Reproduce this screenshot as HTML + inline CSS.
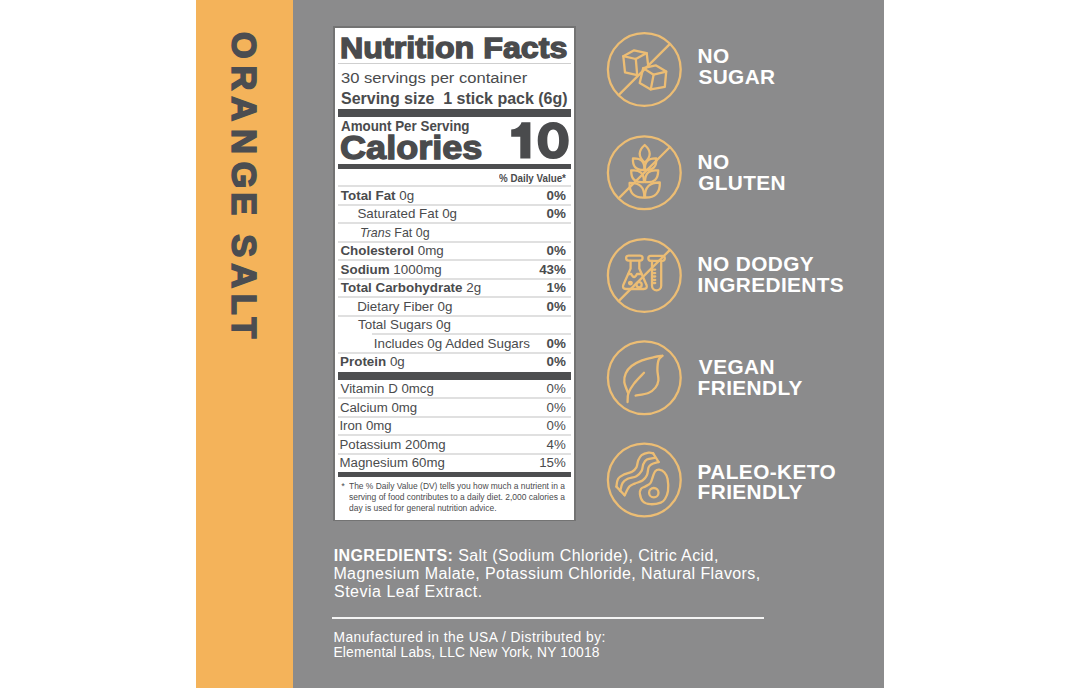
<!DOCTYPE html>
<html><head><meta charset="utf-8"><style>
html,body{margin:0;padding:0;}
body{width:1080px;height:688px;position:relative;overflow:hidden;background:#fff;font-family:"Liberation Sans", sans-serif;}
.t{position:absolute;white-space:nowrap;line-height:1;}
.r{position:absolute;}
.ic{position:absolute;left:0;top:0;}
b{font-weight:bold;}
</style></head><body>
<div class="r" style="left:196px;top:0px;width:97px;height:688px;background:#f4b35a;"></div>
<div class="r" style="left:293px;top:0px;width:591px;height:688px;background:#8b8b8c;"></div>
<div class="r" style="left:333px;top:26px;width:243px;height:495px;background:#737373;"></div>
<div class="r" style="left:335px;top:27.5px;width:239px;height:492px;background:#ffffff;"></div>
<div class="t" style="left:340.44px;top:34.19px;font-size:28.6px;font-weight:bold;font-style:normal;color:#4a4b4d;letter-spacing:0.0px;transform:scaleX(1.1273);transform-origin:0 0;-webkit-text-stroke:1.3px #4a4b4d;">Nutrition Facts</div>
<div class="r" style="left:338px;top:63px;width:233px;height:1px;background:#cfcfcf;"></div>
<div class="t" style="left:340.57px;top:69.68px;font-size:15.5px;font-weight:normal;font-style:normal;color:#4a4b4d;letter-spacing:0.0px;transform:scaleX(1.0699);transform-origin:0 0;">30 servings per container</div>
<div class="t" style="left:340.54px;top:90.00px;font-size:16.3px;font-weight:bold;font-style:normal;color:#4a4b4d;letter-spacing:0.0px;transform:scaleX(0.9820);transform-origin:0 0;">Serving size  1 stick pack (6g)</div>
<div class="r" style="left:338px;top:109px;width:233px;height:8px;background:#4d4e50;"></div>
<div class="t" style="left:340.67px;top:120.12px;font-size:13.8px;font-weight:bold;font-style:normal;color:#4a4b4d;letter-spacing:0.0px;transform:scaleX(0.9689);transform-origin:0 0;">Amount Per Serving</div>
<div class="t" style="left:339.52px;top:131.97px;font-size:32.4px;font-weight:bold;font-style:normal;color:#4a4b4d;letter-spacing:0.0px;transform:scaleX(1.1142);transform-origin:0 0;-webkit-text-stroke:1.3px #4a4b4d;">Calories</div>
<svg class="ic" width="1080" height="688" viewBox="0 0 1080 688"><path fill="#4a4b4d" fill-rule="evenodd" d="M530.4,122.3 H521.5 C520,127 516,129.3 511.2,129.6 V136.8 H520.3 V158.6 H530.4 Z M553.2,121.9 C543.2,121.9 537.7,129.8 537.7,140.4 C537.7,151 543.2,159 553.2,159 C563.2,159 568.7,151 568.7,140.4 C568.7,129.8 563.2,121.9 553.2,121.9 Z M553.2,129.5 C549.5,129.5 547.3,133 547.3,140.4 C547.3,147.8 549.5,151.3 553.2,151.3 C556.9,151.3 559.1,147.8 559.1,140.4 C559.1,133 556.9,129.5 553.2,129.5 Z"/></svg>
<div class="r" style="left:338px;top:164px;width:233px;height:5px;background:#4d4e50;"></div>
<div class="t" style="left:499.26px;top:173.13px;font-size:10.6px;font-weight:bold;font-style:normal;color:#4a4b4d;letter-spacing:0.0px;transform:scaleX(0.9233);transform-origin:0 0;">% Daily Value*</div>
<div class="t" style="left:340.85px;top:188.67px;font-size:13.38px;color:#4a4b4d;"><b>Total Fat</b> 0g</div>
<div class="t" style="left:546.61px;top:188.67px;font-size:13.38px;font-weight:bold;color:#4a4b4d">0%</div>
<div class="t" style="left:357.39px;top:207.17px;font-size:13.38px;color:#4a4b4d;">Saturated Fat 0g</div>
<div class="t" style="left:546.61px;top:207.17px;font-size:13.38px;font-weight:bold;color:#4a4b4d">0%</div>
<div class="t" style="left:360.20px;top:225.67px;font-size:13.38px;color:#4a4b4d;transform:scaleX(0.93);transform-origin:0 0;"><i>Trans</i> Fat 0g</div>
<div class="t" style="left:340.45px;top:244.17px;font-size:13.38px;color:#4a4b4d;"><b>Cholesterol</b> 0mg</div>
<div class="t" style="left:546.61px;top:244.17px;font-size:13.38px;font-weight:bold;color:#4a4b4d">0%</div>
<div class="t" style="left:340.61px;top:262.67px;font-size:13.38px;color:#4a4b4d;"><b>Sodium</b> 1000mg</div>
<div class="t" style="left:539.17px;top:262.67px;font-size:13.38px;font-weight:bold;color:#4a4b4d">43%</div>
<div class="t" style="left:340.85px;top:281.17px;font-size:13.38px;color:#4a4b4d;"><b>Total Carbohydrate</b> 2g</div>
<div class="t" style="left:546.61px;top:281.17px;font-size:13.38px;font-weight:bold;color:#4a4b4d">1%</div>
<div class="t" style="left:357.20px;top:299.67px;font-size:13.38px;color:#4a4b4d;">Dietary Fiber 0g</div>
<div class="t" style="left:546.61px;top:299.67px;font-size:13.38px;font-weight:bold;color:#4a4b4d">0%</div>
<div class="t" style="left:358.00px;top:318.17px;font-size:13.38px;color:#4a4b4d;">Total Sugars 0g</div>
<div class="t" style="left:373.77px;top:336.67px;font-size:13.38px;color:#4a4b4d;">Includes 0g Added Sugars</div>
<div class="t" style="left:546.61px;top:336.67px;font-size:13.38px;font-weight:bold;color:#4a4b4d">0%</div>
<div class="t" style="left:340.10px;top:355.17px;font-size:13.38px;color:#4a4b4d;"><b>Protein</b> 0g</div>
<div class="t" style="left:546.61px;top:355.17px;font-size:13.38px;font-weight:bold;color:#4a4b4d">0%</div>
<div class="r" style="left:338px;top:185px;width:233px;height:2px;background:#e0e0e0;"></div>
<div class="r" style="left:338px;top:204px;width:233px;height:2px;background:#e0e0e0;"></div>
<div class="r" style="left:338px;top:222px;width:233px;height:2px;background:#e0e0e0;"></div>
<div class="r" style="left:338px;top:241px;width:233px;height:2px;background:#e0e0e0;"></div>
<div class="r" style="left:338px;top:259px;width:233px;height:2px;background:#e0e0e0;"></div>
<div class="r" style="left:338px;top:278px;width:233px;height:2px;background:#e0e0e0;"></div>
<div class="r" style="left:338px;top:296px;width:233px;height:2px;background:#e0e0e0;"></div>
<div class="r" style="left:338px;top:315px;width:233px;height:2px;background:#e0e0e0;"></div>
<div class="r" style="left:372px;top:333px;width:199px;height:2px;background:#e0e0e0;"></div>
<div class="r" style="left:338px;top:352px;width:233px;height:2px;background:#e0e0e0;"></div>
<div class="r" style="left:338px;top:372px;width:233px;height:7.5px;background:#4d4e50;"></div>
<div class="t" style="left:340.54px;top:382.08px;font-size:13.25px;font-weight:normal;font-style:normal;color:#4a4b4d;letter-spacing:0.0px;">Vitamin D 0mcg</div>
<div class="t" style="left:546.52px;top:382.08px;font-size:13.25px;font-weight:normal;font-style:normal;color:#4a4b4d;letter-spacing:0.0px;">0%</div>
<div class="r" style="left:338px;top:397px;width:233px;height:2px;background:#e0e0e0;"></div>
<div class="t" style="left:339.93px;top:400.63px;font-size:13.25px;font-weight:normal;font-style:normal;color:#4a4b4d;letter-spacing:0.0px;">Calcium 0mg</div>
<div class="t" style="left:546.52px;top:400.63px;font-size:13.25px;font-weight:normal;font-style:normal;color:#4a4b4d;letter-spacing:0.0px;">0%</div>
<div class="r" style="left:338px;top:416px;width:233px;height:2px;background:#e0e0e0;"></div>
<div class="t" style="left:339.38px;top:419.18px;font-size:13.25px;font-weight:normal;font-style:normal;color:#4a4b4d;letter-spacing:0.0px;">Iron 0mg</div>
<div class="t" style="left:546.52px;top:419.18px;font-size:13.25px;font-weight:normal;font-style:normal;color:#4a4b4d;letter-spacing:0.0px;">0%</div>
<div class="r" style="left:338px;top:434px;width:233px;height:2px;background:#e0e0e0;"></div>
<div class="t" style="left:339.51px;top:437.73px;font-size:13.25px;font-weight:normal;font-style:normal;color:#4a4b4d;letter-spacing:0.0px;">Potassium 200mg</div>
<div class="t" style="left:546.52px;top:437.73px;font-size:13.25px;font-weight:normal;font-style:normal;color:#4a4b4d;letter-spacing:0.0px;">4%</div>
<div class="r" style="left:338px;top:453px;width:233px;height:2px;background:#e0e0e0;"></div>
<div class="t" style="left:339.51px;top:456.28px;font-size:13.25px;font-weight:normal;font-style:normal;color:#4a4b4d;letter-spacing:0.0px;">Magnesium 60mg</div>
<div class="t" style="left:539.15px;top:456.28px;font-size:13.25px;font-weight:normal;font-style:normal;color:#4a4b4d;letter-spacing:0.0px;">15%</div>
<div class="r" style="left:338px;top:472px;width:233px;height:5.4px;background:#4d4e50;"></div>
<div class="t" style="left:341.15px;top:482.01px;font-size:9.2px;font-weight:normal;font-style:normal;color:#4a4b4d;letter-spacing:0.0px;">*</div>
<div class="t" style="left:348.81px;top:482.01px;font-size:9.2px;font-weight:normal;font-style:normal;color:#4a4b4d;letter-spacing:0.0px;transform:scaleX(0.9177);transform-origin:0 0;">The % Daily Value (DV) tells you how much a nutrient in a</div>
<div class="t" style="left:348.76px;top:492.81px;font-size:9.2px;font-weight:normal;font-style:normal;color:#4a4b4d;letter-spacing:0.0px;transform:scaleX(0.9212);transform-origin:0 0;">serving of food contributes to a daily diet. 2,000 calories a</div>
<div class="t" style="left:348.64px;top:503.61px;font-size:9.2px;font-weight:normal;font-style:normal;color:#4a4b4d;letter-spacing:0.0px;transform:scaleX(0.9229);transform-origin:0 0;">day is used for general nutrition advice.</div>
<div class="t" style="left:697.61px;top:46.49px;font-size:20.8px;font-weight:bold;font-style:normal;color:#ffffff;letter-spacing:0.4px;">NO</div>
<div class="t" style="left:698.40px;top:67.09px;font-size:20.8px;font-weight:bold;font-style:normal;color:#ffffff;letter-spacing:0.4px;">SUGAR</div>
<div class="t" style="left:697.61px;top:152.29px;font-size:20.8px;font-weight:bold;font-style:normal;color:#ffffff;letter-spacing:0.4px;">NO</div>
<div class="t" style="left:698.15px;top:172.89px;font-size:20.8px;font-weight:bold;font-style:normal;color:#ffffff;letter-spacing:0.4px;">GLUTEN</div>
<div class="t" style="left:697.61px;top:254.09px;font-size:20.8px;font-weight:bold;font-style:normal;color:#ffffff;letter-spacing:0.4px;">NO DODGY</div>
<div class="t" style="left:697.61px;top:274.69px;font-size:20.8px;font-weight:bold;font-style:normal;color:#ffffff;letter-spacing:0.4px;">INGREDIENTS</div>
<div class="t" style="left:698.86px;top:357.29px;font-size:20.8px;font-weight:bold;font-style:normal;color:#ffffff;letter-spacing:0.4px;">VEGAN</div>
<div class="t" style="left:697.61px;top:377.89px;font-size:20.8px;font-weight:bold;font-style:normal;color:#ffffff;letter-spacing:0.4px;">FRIENDLY</div>
<div class="t" style="left:697.61px;top:461.59px;font-size:20.8px;font-weight:bold;font-style:normal;color:#ffffff;letter-spacing:0.4px;">PALEO-KETO</div>
<div class="t" style="left:697.61px;top:482.19px;font-size:20.8px;font-weight:bold;font-style:normal;color:#ffffff;letter-spacing:0.4px;">FRIENDLY</div>
<div class="t" style="left:333.63px;top:548.16px;font-size:16px;color:#ffffff;letter-spacing:0.42px"><b>INGREDIENTS:</b> Salt (Sodium Chloride), Citric Acid,</div>
<div class="t" style="left:333.39px;top:566.06px;font-size:16px;font-weight:normal;font-style:normal;color:#ffffff;letter-spacing:0.42px;">Magnesium Malate, Potassium Chloride, Natural Flavors,</div>
<div class="t" style="left:333.97px;top:584.06px;font-size:16px;font-weight:normal;font-style:normal;color:#ffffff;letter-spacing:0.5px;">Stevia Leaf Extract.</div>
<div class="r" style="left:332px;top:617px;width:432px;height:1.5px;background:#f4f4f4;"></div>
<div class="t" style="left:333.47px;top:631.22px;font-size:13.8px;font-weight:normal;font-style:normal;color:#ffffff;letter-spacing:0.47px;">Manufactured in the USA / Distributed by:</div>
<div class="t" style="left:333.47px;top:645.82px;font-size:13.8px;font-weight:normal;font-style:normal;color:#ffffff;letter-spacing:0.19px;">Elemental Labs, LLC New York, NY 10018</div>
<div class="t" style="left:260.59px;top:0px;font-size:34.6px;font-weight:bold;color:#4b4d51;transform:rotate(90deg);transform-origin:0 0;-webkit-text-stroke:1.5px #4b4d51"><span style="position:absolute;left:31.76px;top:0">O</span><span style="position:absolute;left:65.50px;top:0">R</span><span style="position:absolute;left:96.33px;top:0">A</span><span style="position:absolute;left:128.91px;top:0">N</span><span style="position:absolute;left:161.46px;top:0">G</span><span style="position:absolute;left:192.18px;top:0">E</span><span style="position:absolute;left:234.14px;top:0">S</span><span style="position:absolute;left:263.13px;top:0">A</span><span style="position:absolute;left:293.66px;top:0">L</span><span style="position:absolute;left:317.37px;top:0">T</span></div>
<svg class="ic" width="1080" height="688" viewBox="0 0 1080 688" fill="none" stroke="#ecbd74" stroke-width="2.3" stroke-linejoin="round" stroke-linecap="round"><circle cx="644.3" cy="69.5" r="36.4"/><circle cx="644.3" cy="172.7" r="36.4"/><circle cx="644.3" cy="275.5" r="36.4"/><circle cx="644.3" cy="377.8" r="36.4"/><circle cx="644.3" cy="480.0" r="36.4"/><line x1="619.37" y1="94.43" x2="669.23" y2="44.57"/><line x1="619.37" y1="197.63" x2="669.23" y2="147.77"/><line x1="619.37" y1="300.43" x2="669.23" y2="250.57"/><path d="M623.30,56.20 L634.10,50.30 L646.70,53.10 L635.80,59.00Z"/><path d="M623.30,56.20 L625.00,72.30 L637.20,75.10 L635.80,59.00"/><path d="M646.70,53.10 L648.00,64.20"/><path d="M643.20,68.10 L655.70,65.30 L666.20,71.60 L653.60,74.70Z"/><path d="M643.20,68.10 L639.70,83.10 L650.80,89.40 L664.80,86.90 L666.20,71.60"/><path d="M653.60,74.70 L650.80,89.40"/><path d="M644.70,145.00 Q634.70,153.75 644.70,162.50 Q654.70,153.75 644.70,145.00Z"/><path d="M633.00,158.30 Q632.03,170.54 644.30,170.00 Q645.27,157.76 633.00,158.30Z"/><path d="M656.30,158.30 Q644.03,157.76 645.00,170.00 Q657.27,170.54 656.30,158.30Z"/><path d="M631.20,170.50 Q630.92,183.69 644.00,182.00 Q644.28,168.81 631.20,170.50Z"/><path d="M658.20,170.50 Q645.03,168.71 645.00,182.00 Q658.17,183.79 658.20,170.50Z"/><path d="M629.60,183.00 Q629.08,198.22 644.30,197.50 Q644.82,182.28 629.60,183.00Z"/><path d="M659.80,182.50 Q644.43,182.13 645.00,197.50 Q660.37,197.87 659.80,182.50Z"/><path d="M628.6,255.6 H640.1 A2.5,2.5 0 0 1 640.1,260.6 H628.6 A2.5,2.5 0 0 1 628.6,255.6Z"/><path d="M630.6,260.8 V268.5 L623.2,285.2 Q622.2,289 626,289 H643.8 Q647.6,289 646.6,285.2 L639.3,268.5 V260.8"/><path d="M628.5,274 H631.2 Q634,280 637,274 H641.4"/><path d="M630.4,283.1 m-1.3,0 a1.3,1.3 0 1 0 2.6,0 a1.3,1.3 0 1 0 -2.6,0"/><path d="M639.1,284.8 m-2.6,0 a2.6,2.6 0 1 0 5.2,0 a2.6,2.6 0 1 0 -5.2,0"/><path d="M650.8,255.8 H662.3 A2.5,2.5 0 0 1 662.3,260.8 H650.8 A2.5,2.5 0 0 1 650.8,255.8Z"/><path d="M652,261 V285.8 A4.6,4.6 0 0 0 661.2,285.8 V261"/><path d="M653.6,269.6 H655.2"/><path d="M653.6,273.1 H655.2"/><path d="M653.6,276.5 H655.2"/><path d="M653.6,279.9 H655.2"/><path d="M653.6,283.0 H655.2"/><path d="M628.20,393.20 C627.55,391.33 624.70,385.33 624.30,382.00 C623.90,378.67 624.58,375.87 625.80,373.20 C627.02,370.53 628.90,368.13 631.60,366.00 C634.30,363.87 638.27,361.87 642.00,360.40 C645.73,358.93 650.60,357.97 654.00,357.20 C657.40,356.43 661.00,356.03 662.40,355.80"/><path d="M662.40,355.80 C661.77,356.50 659.43,357.63 658.60,360.00 C657.77,362.37 657.43,366.60 657.40,370.00 C657.37,373.40 658.73,377.47 658.40,380.40 C658.07,383.33 657.07,385.50 655.40,387.60 C653.73,389.70 651.70,391.67 648.40,393.00 C645.10,394.33 637.73,395.17 635.60,395.60"/><path d="M627.60,402.00 C627.73,400.53 627.33,396.27 628.40,393.20 C629.47,390.13 631.40,387.00 634.00,383.60 C636.60,380.20 642.33,374.60 644.00,372.80"/><path d="M616.40,486.60 C616.68,485.30 616.80,480.83 618.10,478.80 C619.40,476.77 621.88,475.57 624.20,474.40 C626.52,473.23 629.97,472.97 632.00,471.80 C634.03,470.63 635.37,469.28 636.40,467.40 C637.43,465.52 637.33,462.53 638.20,460.50 C639.07,458.47 639.87,456.52 641.60,455.20 C643.33,453.88 646.67,452.92 648.60,452.60 C650.53,452.28 652.43,453.18 653.20,453.30"/><path d="M620.30,491.00 C620.67,489.68 621.27,485.13 622.50,483.10 C623.73,481.07 625.38,479.95 627.70,478.80 C630.02,477.65 634.08,477.52 636.40,476.20 C638.72,474.88 640.43,472.93 641.60,470.90 C642.77,468.87 642.52,465.88 643.40,464.00 C644.28,462.12 645.02,460.63 646.90,459.60 C648.78,458.57 653.40,458.10 654.70,457.80"/><path d="M624.60,495.30 C625.40,493.85 627.72,488.55 629.40,486.60 C631.08,484.65 632.52,484.62 634.70,483.60 C636.88,482.58 640.47,481.88 642.50,480.50 C644.53,479.12 645.88,477.48 646.90,475.30 C647.92,473.12 647.88,469.22 648.60,467.40 C649.32,465.58 649.53,465.30 651.20,464.40 C652.87,463.50 657.37,462.40 658.60,462.00"/><path d="M616.40,486.60 L624.60,495.30"/><path d="M653.20,453.30 L658.60,462.00"/><path d="M659.10,469.60 C660.65,469.82 663.08,470.93 664.50,472.50 C665.92,474.07 667.02,475.92 667.60,479.00 C668.18,482.08 668.43,487.67 668.00,491.00 C667.57,494.33 666.20,497.07 665.00,499.00 C663.80,500.93 663.23,501.73 660.80,502.60 C658.37,503.47 653.37,504.38 650.40,504.20 C647.43,504.02 644.75,503.20 643.00,501.50 C641.25,499.80 640.23,496.12 639.90,494.00 C639.57,491.88 640.10,490.07 641.00,488.80 C641.90,487.53 643.73,487.35 645.30,486.40 C646.87,485.45 649.12,484.80 650.40,483.10 C651.68,481.40 652.20,478.18 653.00,476.20 C653.80,474.22 654.18,472.30 655.20,471.20 C656.22,470.10 657.55,469.38 659.10,469.60Z"/><path d="M653.8,492.7 m-4.7,0 a4.7,4.7 0 1 0 9.4,0 a4.7,4.7 0 1 0 -9.4,0"/></svg>
</body></html>
